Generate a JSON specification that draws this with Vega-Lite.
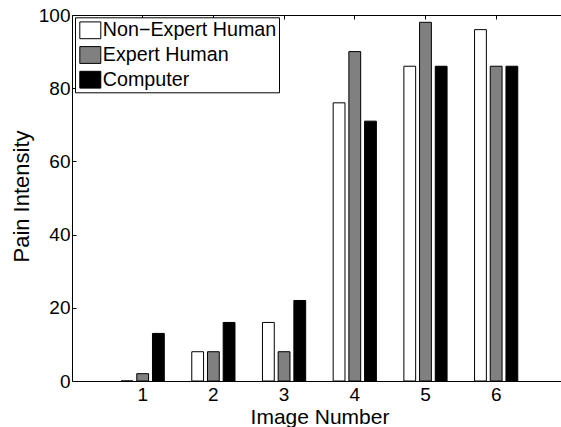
{
  "$schema": "https://vega.github.io/schema/vega-lite/v6.json",
  "autosize": {"type": "none"},
  "width": 489,
  "height": 366,
  "padding": {"left": 72, "top": 15, "right": 0, "bottom": 46},
  "background": "white",
  "config": {
    "view": {"stroke": null},
    "font": "Liberation Sans",
    "axis": {"grid": false, "domainColor": "black", "tickColor": "black", "labelColor": "black", "titleColor": "black", "labelFont": "Liberation Sans", "titleFont": "Liberation Sans", "titleFontWeight": "normal"}
  },
  "data": {
    "values": [
      {"img": 1, "series": "Non−Expert Human", "value": 0},
      {"img": 1, "series": "Expert Human", "value": 2},
      {"img": 1, "series": "Computer", "value": 13},
      {"img": 2, "series": "Non−Expert Human", "value": 8},
      {"img": 2, "series": "Expert Human", "value": 8},
      {"img": 2, "series": "Computer", "value": 16},
      {"img": 3, "series": "Non−Expert Human", "value": 16},
      {"img": 3, "series": "Expert Human", "value": 8},
      {"img": 3, "series": "Computer", "value": 22},
      {"img": 4, "series": "Non−Expert Human", "value": 76},
      {"img": 4, "series": "Expert Human", "value": 90},
      {"img": 4, "series": "Computer", "value": 71},
      {"img": 5, "series": "Non−Expert Human", "value": 86},
      {"img": 5, "series": "Expert Human", "value": 98},
      {"img": 5, "series": "Computer", "value": 86},
      {"img": 6, "series": "Non−Expert Human", "value": 96},
      {"img": 6, "series": "Expert Human", "value": 86},
      {"img": 6, "series": "Computer", "value": 86}
    ]
  },
  "resolve": {"axis": {"x": "independent"}},
  "layer": [
    {
      "mark": {"type": "bar", "stroke": "black", "strokeWidth": 1},
      "encoding": {
        "x": {
          "field": "img", "type": "ordinal",
          "scale": {"paddingInner": 0.2, "paddingOuter": 0.5584, "align": 0.537, "round": false},
          "axis": {"orient": "bottom", "labelAngle": 0, "ticks": false, "labelPadding": 4, "labelFontSize": 19, "domainWidth": 1,
                   "title": "Image Number", "titleFontSize": 21, "titleX": 247.5, "titleY": 42, "titleBaseline": "alphabetic", "titleAlign": "center"}
        },
        "xOffset": {
          "field": "series", "type": "nominal",
          "scale": {"domain": ["Non−Expert Human", "Expert Human", "Computer"], "paddingInner": 0.248, "paddingOuter": 0.425, "round": false}
        },
        "y": {
          "field": "value", "type": "quantitative",
          "scale": {"domain": [0, 100], "nice": false},
          "axis": {"values": [0, 20, 40, 60, 80, 100], "tickSize": -4, "labelPadding": 6, "labelFontSize": 19, "domainWidth": 1,
                   "title": "Pain Intensity", "titleFontSize": 22, "titleAngle": -90, "titleX": -43.7, "titleY": 181, "titleBaseline": "alphabetic", "titleAlign": "center"}
        },
        "fill": {
          "field": "series", "type": "nominal",
          "scale": {"domain": ["Non−Expert Human", "Expert Human", "Computer"], "range": ["#ffffff", "#808080", "#000000"]},
          "legend": {
            "title": null, "orient": "none", "legendX": 3, "legendY": 2.3,
            "strokeColor": "black", "fillColor": "white", "padding": 2, "cornerRadius": 0,
            "symbolType": "M-1,-0.8H1V0.8H-1Z", "symbolSize": 441, "symbolStrokeColor": "black", "symbolStrokeWidth": 1, "symbolOffset": 2.3,
            "labelFontSize": 19.7, "labelFont": "Liberation Sans", "labelColor": "black", "labelOffset": 1.5, "rowPadding": 2.7, "labelLimit": 400
          }
        }
      }
    },
    {
      "mark": {"type": "rule", "opacity": 0},
      "encoding": {
        "x": {
          "field": "img", "type": "ordinal",
          "axis": {"orient": "top", "labels": false, "title": null, "tickSize": -4, "domainWidth": 1}
        }
      }
    }
  ]
}
